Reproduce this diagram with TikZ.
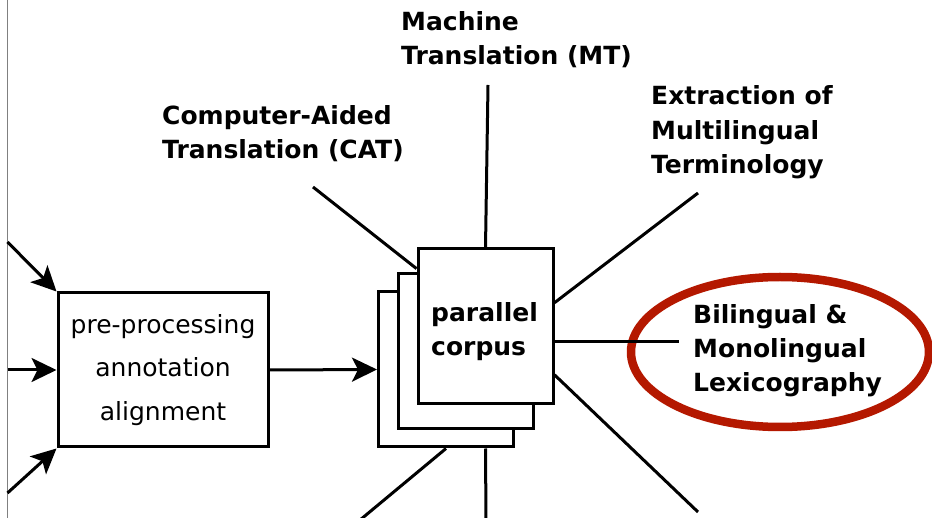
\documentclass[tikz,border=0pt]{standalone}
\usepackage{fontspec}
\setmainfont{DejaVu Sans}
\usetikzlibrary{arrows.meta,shapes.geometric}
\definecolor{ringred}{RGB}{180,24,0}
\definecolor{edgegray}{RGB}{128,128,128}
\tikzset{
  link/.style={line width=3pt},
  feed/.style={line width=3pt,-{Stealth[length=25pt,width=24pt,inset=6pt]}},
  sheet/.style={draw,line width=3pt,fill=white,minimum width=135pt,minimum height=155pt,inner sep=0pt},
  % anchored at the baseline of the last line
  label/.style={font=\bfseries\fontsize{25}{34.5}\selectfont,align=left,anchor=base west,inner sep=0pt},
}
\begin{document}
\begin{tikzpicture}[x=1pt,y=-1pt]
\useasboundingbox (0,0) rectangle (932,518);

% left margin rule
\draw[edgegray,line width=1.5pt] (7.5,0) -- (7.5,518);

% processing step
\node[draw,line width=3pt,minimum width=210pt,minimum height=154pt,inner sep=0pt,
      align=center,font=\fontsize{25}{43.7}\selectfont] (prep) at (163,370)
      {pre-processing\\annotation\\alignment};

\coordinate (inA) at (7.5,242);
\coordinate (inB) at (7.5,370);
\coordinate (inC) at (7.5,493);
\draw[feed] (inA) -- (prep.north west);
\draw[feed] (inB) -- (prep.west);
\draw[feed] (inC) -- (prep.south west);

% stacked corpus sheets
\node[sheet] (back) at (446,369.5) {};
\node[sheet] (mid) at (466,351) {};
\node[sheet] (front) at (485.5,326.5) {};
\node[label] (corpuslabel) at (431,356) {parallel\\corpus};

\draw[feed] (prep.east) -- (back.west);

% application labels
\node[label] (mt) at (401,65) {Machine\\Translation (MT)};
\node[label] (cat) at (162,159) {Computer-Aided\\Translation (CAT)};
\node[label] (term) at (651,174) {Extraction of\\Multilingual\\Terminology};

% highlighted application
\node[draw=ringred,line width=8.5pt,ellipse,minimum width=298pt,minimum height=150pt] (lexring) at (780,352) {};
\node[label] (lex) at (693,392) {Bilingual \&\\Monolingual\\Lexicography};

% spokes
\coordinate (catEnd) at (313,187);
\coordinate (mtEnd) at (488,85);
\coordinate (termEnd) at (698,193);
\coordinate (lowRight) at (698,512);
\coordinate (lowMid) at (486,520);
\coordinate (lowLeft) at (360,520);
\draw[link] (catEnd) -- (front.140);
\draw[link] (mtEnd) -- (front.north);
\draw[link] (termEnd) -- (front.19);
\draw[link] (front.-12) -- ([xshift=-14pt]front.-12 -| lex.west);
\draw[link] (front.-35) -- (lowRight);
\draw[link] (front.north |- back.south) -- (lowMid);
\draw[link] (back.south) -- (lowLeft);
\end{tikzpicture}
\end{document}
